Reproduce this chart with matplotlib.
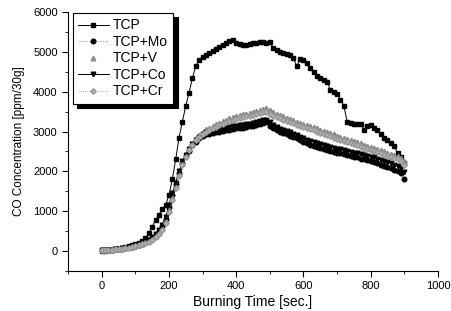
#CO concentration vs burning time for TCP with additives

import numpy as np
import matplotlib
matplotlib.use("Agg")
import matplotlib.pyplot as plt
from matplotlib.ticker import MultipleLocator

plt.rcParams["font.family"] = ["Liberation Sans", "DejaVu Sans"]

times = np.arange(0, 910, 10)

tcp = [0, 10, 20, 30, 45, 60, 80, 100, 120, 150,
       180, 210, 260, 330, 450, 600, 780, 900, 1050, 1150,
       1400, 1800, 2300, 2850, 3250, 3650, 3980, 4350, 4650, 4800,
       4880, 4930, 4970, 5030, 5080, 5130, 5180, 5230, 5280, 5290,
       5230, 5200, 5180, 5170, 5190, 5220, 5230, 5240, 5240, 5230,
       5240, 5100, 5040, 5000, 4980, 4950, 4920, 4850, 4640, 4820,
       4800, 4720, 4600, 4500, 4400, 4340, 4300, 4250, 4050, 4000,
       3950, 3800, 3650, 3250, 3220, 3200, 3200, 3190, 3050, 3150,
       3170, 3100, 3050, 2950, 2850, 2780, 2720, 2630, 2450, 2350,
       2200]

tcp_mo = [15, 20, 25, 30, 40, 50, 60, 75, 90, 110,
          130, 150, 180, 220, 270, 330, 410, 500, 620, 800,
          1100, 1400, 1680, 1950, 2200, 2380, 2520, 2650, 2750, 2830,
          2900, 2930, 2950, 2970, 2980, 3000, 3010, 3030, 3050, 3060,
          3080, 3090, 3100, 3110, 3130, 3150, 3170, 3190, 3210, 3230,
          3150, 3080, 3030, 3000, 2970, 2940, 2900, 2870, 2830, 2780,
          2740, 2700, 2670, 2640, 2610, 2590, 2560, 2540, 2510, 2490,
          2470, 2450, 2430, 2410, 2390, 2370, 2350, 2320, 2300, 2280,
          2260, 2230, 2200, 2170, 2140, 2110, 2080, 2040, 2000, 1950,
          1800]

tcp_v = [20, 25, 30, 35, 45, 55, 65, 80, 95, 110,
         130, 155, 180, 215, 260, 310, 380, 460, 570, 760,
         1050, 1350, 1650, 1950, 2230, 2420, 2580, 2720, 2830, 2920,
         3000, 3060, 3100, 3140, 3180, 3220, 3260, 3300, 3330, 3360,
         3390, 3410, 3430, 3450, 3470, 3490, 3510, 3540, 3560, 3580,
         3530, 3480, 3440, 3410, 3380, 3350, 3320, 3290, 3250, 3220,
         3190, 3160, 3140, 3110, 3080, 3050, 3020, 2990, 2960, 2930,
         2900, 2870, 2840, 2810, 2780, 2760, 2730, 2700, 2670, 2640,
         2610, 2580, 2560, 2530, 2500, 2470, 2440, 2410, 2380, 2330,
         2250]

tcp_co = [20, 25, 30, 35, 45, 55, 65, 80, 95, 115,
          135, 160, 190, 230, 280, 340, 420, 520, 650, 850,
          1150, 1450, 1720, 2000, 2250, 2420, 2560, 2690, 2790, 2870,
          2940, 2980, 3000, 3020, 3040, 3060, 3080, 3100, 3110, 3130,
          3150, 3160, 3170, 3190, 3200, 3220, 3240, 3260, 3280, 3300,
          3230, 3160, 3110, 3070, 3040, 3010, 2980, 2950, 2910, 2870,
          2830, 2800, 2770, 2740, 2710, 2680, 2660, 2640, 2610, 2590,
          2570, 2550, 2530, 2510, 2490, 2470, 2450, 2430, 2410, 2390,
          2370, 2350, 2320, 2290, 2260, 2230, 2200, 2170, 2130, 2080,
          1980]

tcp_cr = [15, 20, 25, 30, 40, 50, 60, 70, 85, 100,
          120, 140, 165, 195, 235, 285, 350, 430, 530, 700,
          980, 1280, 1580, 1880, 2160, 2360, 2530, 2670, 2780, 2870,
          2950, 3000, 3040, 3080, 3120, 3160, 3200, 3240, 3270, 3300,
          3320, 3340, 3360, 3380, 3400, 3420, 3440, 3460, 3480, 3500,
          3450, 3400, 3360, 3330, 3300, 3270, 3240, 3210, 3170, 3140,
          3110, 3080, 3060, 3030, 3000, 2970, 2940, 2910, 2880, 2850,
          2820, 2790, 2760, 2730, 2700, 2680, 2650, 2620, 2590, 2560,
          2530, 2500, 2480, 2450, 2420, 2390, 2360, 2330, 2300, 2250,
          2150]

def main():

    fig = plt.figure(figsize=(4.51, 3.11), dpi=100)
    ax = fig.add_axes([0.151, 0.129, 0.82, 0.832])

    ax.plot(times, tcp, color="black", lw=0.7, marker="s", ms=3.4, label="TCP")
    ax.plot(times, tcp_mo, color="#777777", lw=0.6, ls=":", marker="o", ms=3.3,
            mfc="black", mec="black", label="TCP+Mo")
    ax.plot(times, tcp_v, color="#999999", lw=0, marker="^", ms=3.3,
            mfc="#999999", mec="#888888", label="TCP+V")
    ax.plot(times, tcp_co, color="black", lw=0.7, marker="v", ms=3.3,
            mfc="black", mec="black", label="TCP+Co")
    ax.plot(times, tcp_cr, color="#888888", lw=0.6, ls=":", marker="D", ms=2.8,
            mfc="#b0b0b0", mec="#999999", label="TCP+Cr")

    ax.set_xlim(-100, 1000)
    ax.set_ylim(-500, 6000)
    ax.xaxis.set_major_locator(MultipleLocator(200))
    ax.xaxis.set_minor_locator(MultipleLocator(100))
    ax.yaxis.set_major_locator(MultipleLocator(1000))
    ax.yaxis.set_minor_locator(MultipleLocator(500))
    ax.tick_params(which="major", direction="out", length=4, width=0.8, labelsize=8)
    ax.tick_params(which="minor", direction="out", length=2, width=0.6)

    ax.spines["top"].set_visible(False)
    ax.spines["right"].set_visible(False)

    ax.set_xlabel("Burning Time [sec.]", fontsize=10, labelpad=3)
    ax.set_ylabel("CO Concentration [ppm/30g]", fontsize=8.5, labelpad=6)

    leg = ax.legend(loc="upper left", bbox_to_anchor=(0.012, 0.997), borderaxespad=0,
                    fontsize=10, numpoints=1, handlelength=2.2, handletextpad=0.3,
                    labelspacing=0.18, borderpad=0.4, fancybox=False,
                    edgecolor="black",
                    shadow={"color": "black", "alpha": 1, "ox": 3, "oy": -3})
    leg.get_frame().set_linewidth(0.8)

    fig.savefig("out.png", dpi=100)

if __name__ == "__main__":
    main()
